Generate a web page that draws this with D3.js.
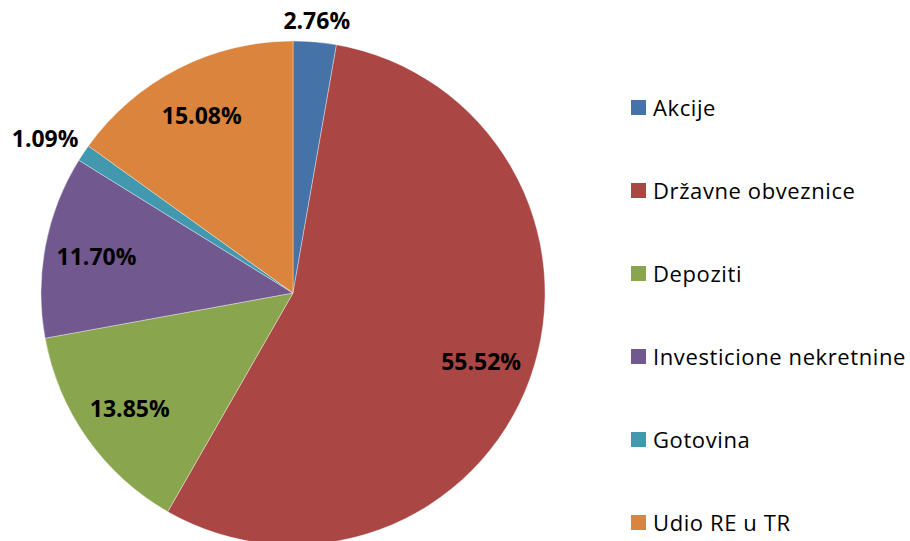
<!DOCTYPE html>
<html><head><meta charset="utf-8">
<script src="https://cdn.jsdelivr.net/npm/d3@7"></script>
<style>body{margin:0;background:#fff}svg{display:block}</style>
</head><body>
<svg id="c" width="910" height="541"></svg>
<script>
const categories = ["Akcije","Državne obveznice","Depoziti","Investicione nekretnine","Gotovina","Udio RE u TR"];
const values = [2.76,55.52,13.85,11.70,1.09,15.08];
const labels = ["2.76%","55.52%","13.85%","11.70%","1.09%","15.08%"];
const colors = ["#4572A7","#AA4643","#89A54E","#71588F","#4198AF","#DB843D"];

const svg = d3.select("#c");
const cx = 293, cy = 293, r = 252;
const color = d3.scaleOrdinal().domain(categories).range(colors);
const pie = d3.pie().sort(null).value(d => d.v);
const data = categories.map((c,i)=>({c, v:values[i], l:labels[i]}));
const arcs = pie(data);
const arc = d3.arc().innerRadius(0).outerRadius(r);
const g = svg.append("g").attr("transform",`translate(${cx},${cy})`);
g.selectAll("path").data(arcs).join("path")
  .attr("d",arc).attr("fill",d=>color(d.data.c))
  .attr("stroke","#fff").attr("stroke-width",0.6).attr("stroke-opacity",0.6);

const inArc = d3.arc().innerRadius(200).outerRadius(200);
g.selectAll("text").data(arcs).join("text")
  .attr("font-family","'Open Sans', sans-serif").attr("font-weight","bold")
  .attr("font-size",23).attr("fill","#000").attr("dominant-baseline","central")
  .each(function(d){
    const a=(d.startAngle+d.endAngle)/2, s=Math.sin(a), co=Math.cos(a);
    const sel=d3.select(this);
    if(d.data.v<5){
      const mid=Math.abs(s)<0.3;
      const rr=mid? r+22 : r+6;
      sel.attr("x",rr*s).attr("y",-rr*co-(mid?0:12))
        .attr("text-anchor",mid?"middle":(s<0?"end":"start"));
    } else {
      const p=inArc.centroid(d);
      sel.attr("x",p[0]).attr("y",p[1]).attr("text-anchor","middle");
    }
  }).text(d=>d.data.l);

const y = d3.scalePoint().domain(categories).range([106,521]);
const lg = svg.append("g");
const item = lg.selectAll("g").data(categories).join("g")
  .attr("transform",d=>`translate(631,${y(d)})`);
item.append("rect").attr("x",0).attr("y",-6).attr("width",15).attr("height",15).attr("fill",d=>color(d));
item.append("text").attr("x",22).attr("y",1).attr("dominant-baseline","central")
  .attr("font-family","'Open Sans', sans-serif").attr("font-size",22).attr("letter-spacing",0.6)
  .attr("fill","#000").text(d=>d);
</script>
</body></html>
